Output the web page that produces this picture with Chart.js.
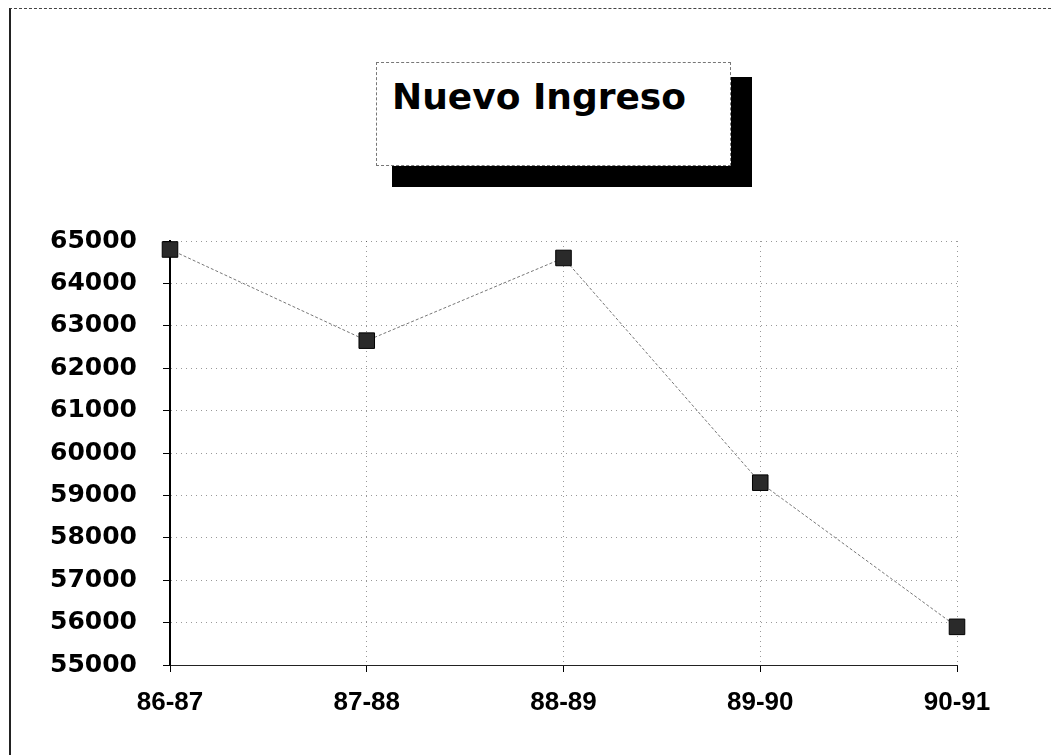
<!DOCTYPE html>
<html>
<head>
<meta charset="utf-8">
<script src="https://cdn.jsdelivr.net/npm/chart.js@4/dist/chart.umd.min.js"></script>
<style>
  html, body { margin: 0; padding: 0; background: #fff; }
  #wrap { position: relative; width: 1051px; height: 755px; overflow: hidden; }
  #frame { position: absolute; left: 9px; top: 8px; width: 1100px; height: 800px;
           border-left: 2px solid #222; border-top: 1px dashed #444; }
  #shadow { position: absolute; left: 392px; top: 77px; width: 360px; height: 110px; background: #000; }
  #titlebox { position: absolute; left: 376px; top: 62px; width: 353px; height: 102px;
              background: #fff; border: 1px dashed #777; }
  #titlebox span { position: absolute; left: 15px; top: 13px; line-height: 1; white-space: nowrap;
                   font: bold 36px "DejaVu Sans", sans-serif; color: #000; }
  #c { position: absolute; left: 0; top: 0; }
</style>
</head>
<body>
<div id="wrap">
  <div id="frame"></div>
  <canvas id="c" width="1051" height="755"></canvas>
  <div id="shadow"></div>
  <div id="titlebox"><span>Nuevo Ingreso</span></div>
</div>
<script>
// school years and new enrolment counts
var years = ["86-87", "87-88", "88-89", "89-90", "90-91"];
var ingreso = [64800, 62650, 64600, 59300, 55900];
var yMin = 55000;
var yMax = 65000;
var yStep = 1000;

var config = {
  type: "line",
  data: {
    labels: years,
    datasets: [{
      label: "Nuevo Ingreso",
      data: ingreso,
      borderColor: "#777",
      borderWidth: 1,
      borderDash: [3, 2],
      pointStyle: "rect",
      pointRadius: 11,
      pointBackgroundColor: "#2a2a2a",
      pointBorderColor: "#000",
      pointBorderWidth: 1,
      tension: 0,
      clip: false
    }]
  },
  options: {
    responsive: false,
    animation: false,
    layout: { padding: { left: 10, top: 241, right: 94, bottom: 30 } },
    plugins: {
      legend: { display: false },
      title: { display: false },
      tooltip: { enabled: false }
    },
    scales: {
      x: {
        offset: false,
        grid: { color: "rgba(0,0,0,0.4)", lineWidth: 1, tickLength: 7, tickColor: "#000" },
        border: { color: "#222", width: 1, dash: [1, 4] },
        ticks: {
          color: "#000", padding: 15,
          font: { family: "'Liberation Sans', Arial, sans-serif", weight: "bold", size: 26 }
        },
        afterFit: function (s) { s.height = 60; }
      },
      y: {
        min: yMin,
        max: yMax,
        grid: { color: "rgba(0,0,0,0.4)", lineWidth: 1, tickLength: 7, tickColor: "#000" },
        border: { color: "#000", width: 2, dash: [1, 4] },
        ticks: {
          color: "#000", stepSize: yStep, padding: 26,
          font: { family: "'DejaVu Sans', sans-serif", weight: "bold", size: 25 },
          callback: function (v) { return String(v); }
        },
        afterFit: function (s) { s.width = 160; }
      }
    }
  }
};

new Chart(document.getElementById("c"), config);
</script>
</body>
</html>
